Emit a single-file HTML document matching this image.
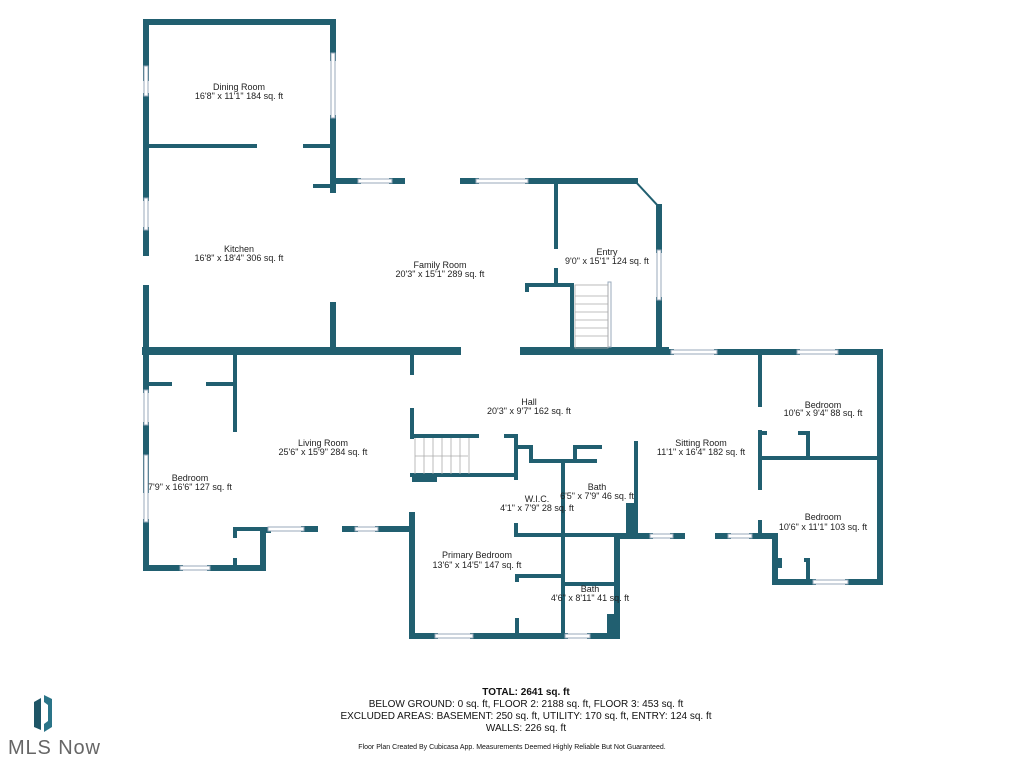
<!DOCTYPE html>
<html><head><style>
html,body{margin:0;padding:0;background:#fff;width:1024px;height:768px;overflow:hidden}
svg{position:absolute;left:0;top:0}
.t{font-family:"Liberation Sans",sans-serif;font-size:9px;fill:#222;text-anchor:middle}
</style></head><body>
<svg width="1024" height="768" viewBox="0 0 1024 768">
<g stroke="#215f70" stroke-linecap="square" fill="none">
<g stroke-width="6">
<polyline points="146,78 146,22 333,22 333,58"/>
<line x1="146" y1="96" x2="146" y2="198"/>
<line x1="146" y1="230" x2="146" y2="253"/>
<line x1="146" y1="288" x2="146" y2="390"/>
<line x1="146" y1="425" x2="146" y2="490"/>
<line x1="146" y1="522" x2="146" y2="568"/>
<line x1="333" y1="118" x2="333" y2="190"/>
<line x1="333" y1="305" x2="333" y2="351"/>
<line x1="146" y1="568" x2="180" y2="568"/>
<line x1="210" y1="568" x2="263" y2="568"/>
<line x1="263" y1="568" x2="263" y2="530"/>
<line x1="263" y1="530" x2="268" y2="530"/>
<line x1="378" y1="529" x2="412" y2="529"/>
<line x1="304" y1="529" x2="315" y2="529"/>
<line x1="345" y1="529" x2="355" y2="529"/>
<line x1="412" y1="515" x2="412" y2="636"/>
<line x1="412" y1="636" x2="435" y2="636"/>
<line x1="473" y1="636" x2="565" y2="636"/>
<line x1="590" y1="636" x2="617" y2="636"/>
<line x1="617" y1="636" x2="617" y2="536"/>
<line x1="617" y1="536" x2="650" y2="536"/>
<line x1="673" y1="536" x2="682" y2="536"/>
<line x1="718" y1="536" x2="728" y2="536"/>
<line x1="752" y1="536" x2="775" y2="536"/>
<line x1="775" y1="536" x2="775" y2="582"/>
<line x1="775" y1="582" x2="813" y2="582"/>
<line x1="848" y1="582" x2="880" y2="582"/>
<line x1="880" y1="582" x2="880" y2="352"/>
<line x1="880" y1="352" x2="838" y2="352"/>
<line x1="797" y1="352" x2="717" y2="352"/>
<line x1="671" y1="352" x2="636" y2="352"/>
<line x1="333" y1="181" x2="358" y2="181"/>
<line x1="392" y1="181" x2="402" y2="181"/>
<line x1="463" y1="181" x2="476" y2="181"/>
<line x1="528" y1="181" x2="635" y2="181"/>
<line x1="659" y1="207" x2="659" y2="250"/>
<line x1="659" y1="300" x2="659" y2="351"/>
</g>
<g stroke-width="8">
<line x1="146" y1="351" x2="457" y2="351"/>
<line x1="524" y1="351" x2="665" y2="351"/>
</g>
<g stroke-width="4">
<line x1="146" y1="146" x2="255" y2="146"/>
<line x1="305" y1="146" x2="333" y2="146"/>
<line x1="315" y1="186" x2="333" y2="186"/>
<line x1="556" y1="181" x2="556" y2="247"/>
<line x1="556" y1="270" x2="556" y2="283"/>
<polyline points="527,290 527,285 572,285 572,351"/>
<line x1="146" y1="384" x2="170" y2="384"/>
<line x1="208" y1="384" x2="235" y2="384"/>
<line x1="235" y1="351" x2="235" y2="430"/>
<line x1="235" y1="530" x2="235" y2="536"/>
<line x1="235" y1="560" x2="235" y2="568"/>
<line x1="235" y1="529" x2="263" y2="529"/>
<line x1="412" y1="351" x2="412" y2="373"/>
<line x1="412" y1="410" x2="412" y2="437"/>
<line x1="412" y1="436" x2="477" y2="436"/>
<line x1="506" y1="436" x2="516" y2="436"/>
<line x1="516" y1="436" x2="516" y2="478"/>
<line x1="516" y1="525" x2="516" y2="535"/>
<line x1="412" y1="475" x2="516" y2="475"/>
<polyline points="516,447 531,447 531,461 563,461 595,461"/>
<polyline points="600,447 575,447 575,461"/>
<line x1="563" y1="461" x2="563" y2="636"/>
<line x1="516" y1="535" x2="617" y2="535"/>
<polyline points="517,580 517,576 563,576"/>
<line x1="517" y1="620" x2="517" y2="636"/>
<line x1="563" y1="584" x2="615" y2="584"/>
<line x1="636" y1="443" x2="636" y2="536"/>
<line x1="760" y1="352" x2="760" y2="405"/>
<line x1="760" y1="432" x2="760" y2="488"/>
<line x1="760" y1="522" x2="760" y2="536"/>
<polyline points="760,433 765,433"/>
<polyline points="800,433 808,433 808,458"/>
<line x1="760" y1="458" x2="880" y2="458"/>
<polyline points="780,566 780,560 775,560"/>
<polyline points="806,560 808,560 808,582"/>
</g>
<path d="M635,181 L659,207" stroke-width="2"/>
<rect x="412" y="474" width="25" height="8" fill="#215f70" stroke="none"/>
<rect x="626" y="503" width="12" height="33" fill="#215f70" stroke="none"/>
<rect x="607" y="614" width="12" height="22" fill="#215f70" stroke="none"/>
</g>
<g fill="#fff" stroke="#9ab" stroke-width="1">
<rect x="144" y="66" width="4" height="30"/>
<rect x="331" y="53" width="4" height="65"/>
<rect x="144" y="198" width="4" height="32"/>
<rect x="144" y="390" width="4" height="35"/>
<rect x="144" y="455" width="4" height="67"/>
<rect x="358" y="179" width="34" height="4"/>
<rect x="476" y="179" width="52" height="4"/>
<rect x="657" y="250" width="4" height="50"/>
<rect x="180" y="566" width="30" height="4"/>
<rect x="268" y="527" width="36" height="4"/>
<rect x="355" y="527" width="23" height="4"/>
<rect x="435" y="634" width="38" height="4"/>
<rect x="565" y="634" width="25" height="4"/>
<rect x="650" y="534" width="23" height="4"/>
<rect x="728" y="534" width="24" height="4"/>
<rect x="813" y="580" width="35" height="4"/>
<rect x="671" y="350" width="46" height="4"/>
<rect x="797" y="350" width="41" height="4"/>
<rect x="608" y="282" width="3" height="65"/>
</g>
<g stroke="#aaa" stroke-width="0.8">
<rect x="575" y="285" width="33" height="63" fill="none"/>
<line x1="575" y1="296" x2="608" y2="296"/><line x1="575" y1="304" x2="608" y2="304"/>
<line x1="575" y1="312" x2="608" y2="312"/><line x1="575" y1="320" x2="608" y2="320"/>
<line x1="575" y1="328" x2="608" y2="328"/><line x1="575" y1="336" x2="608" y2="336"/>
<line x1="415" y1="438" x2="415" y2="474"/><line x1="424" y1="438" x2="424" y2="474"/>
<line x1="433" y1="438" x2="433" y2="474"/><line x1="442" y1="438" x2="442" y2="474"/>
<line x1="451" y1="438" x2="451" y2="474"/><line x1="460" y1="438" x2="460" y2="474"/>
<line x1="469" y1="438" x2="469" y2="474"/>
<line x1="415" y1="456" x2="468" y2="456"/>
</g>
<text class="t" x="239" y="90">Dining Room</text><text class="t" x="239" y="99">16'8" x 11'1" 184 sq. ft</text>
<text class="t" x="239" y="252">Kitchen</text><text class="t" x="239" y="261">16'8" x 18'4" 306 sq. ft</text>
<text class="t" x="440" y="268">Family Room</text><text class="t" x="440" y="277">20'3" x 15'1" 289 sq. ft</text>
<text class="t" x="607" y="255">Entry</text><text class="t" x="607" y="264">9'0" x 15'1" 124 sq. ft</text>
<text class="t" x="529" y="405">Hall</text><text class="t" x="529" y="414">20'3" x 9'7" 162 sq. ft</text>
<text class="t" x="323" y="446">Living Room</text><text class="t" x="323" y="455">25'6" x 15'9" 284 sq. ft</text>
<text class="t" x="190" y="481">Bedroom</text><text class="t" x="190" y="490">7'9" x 16'6" 127 sq. ft</text>
<text class="t" x="537" y="502">W.I.C.</text><text class="t" x="537" y="511">4'1" x 7'9" 28 sq. ft</text>
<text class="t" x="597" y="490">Bath</text><text class="t" x="597" y="499">6'5" x 7'9" 46 sq. ft</text>
<text class="t" x="477" y="558">Primary Bedroom</text><text class="t" x="477" y="568">13'6" x 14'5" 147 sq. ft</text>
<text class="t" x="590" y="592">Bath</text><text class="t" x="590" y="601">4'6" x 8'11" 41 sq. ft</text>
<text class="t" x="701" y="446">Sitting Room</text><text class="t" x="701" y="455">11'1" x 16'4" 182 sq. ft</text>
<text class="t" x="823" y="408">Bedroom</text><text class="t" x="823" y="416">10'6" x 9'4" 88 sq. ft</text>
<text class="t" x="823" y="520">Bedroom</text><text class="t" x="823" y="530">10'6" x 11'1" 103 sq. ft</text>
<g font-family="Liberation Sans,sans-serif" fill="#111" text-anchor="middle">
<text x="526" y="695" font-size="10" font-weight="bold">TOTAL: 2641 sq. ft</text>
<text x="526" y="707" font-size="10">BELOW GROUND: 0 sq. ft, FLOOR 2: 2188 sq. ft, FLOOR 3: 453 sq. ft</text>
<text x="526" y="719" font-size="10">EXCLUDED AREAS: BASEMENT: 250 sq. ft, UTILITY: 170 sq. ft, ENTRY: 124 sq. ft</text>
<text x="526" y="731" font-size="10">WALLS: 226 sq. ft</text>
<text x="512" y="749" font-size="7">Floor Plan Created By Cubicasa App. Measurements Deemed Highly Reliable But Not Guaranteed.</text>
</g>
<path d="M34,702 L41,698 L41,730 L34,727 Z" fill="#1e5566"/>
<path d="M44,695 L52,699 L52,727 L44,732 L44,724 L48,721 L48,705 L44,702 Z" fill="#2a7488"/>
<text x="8" y="754" font-family="Liberation Sans,sans-serif" font-size="20" fill="#666" textLength="92">MLS Now</text>
</svg>
</body></html>
